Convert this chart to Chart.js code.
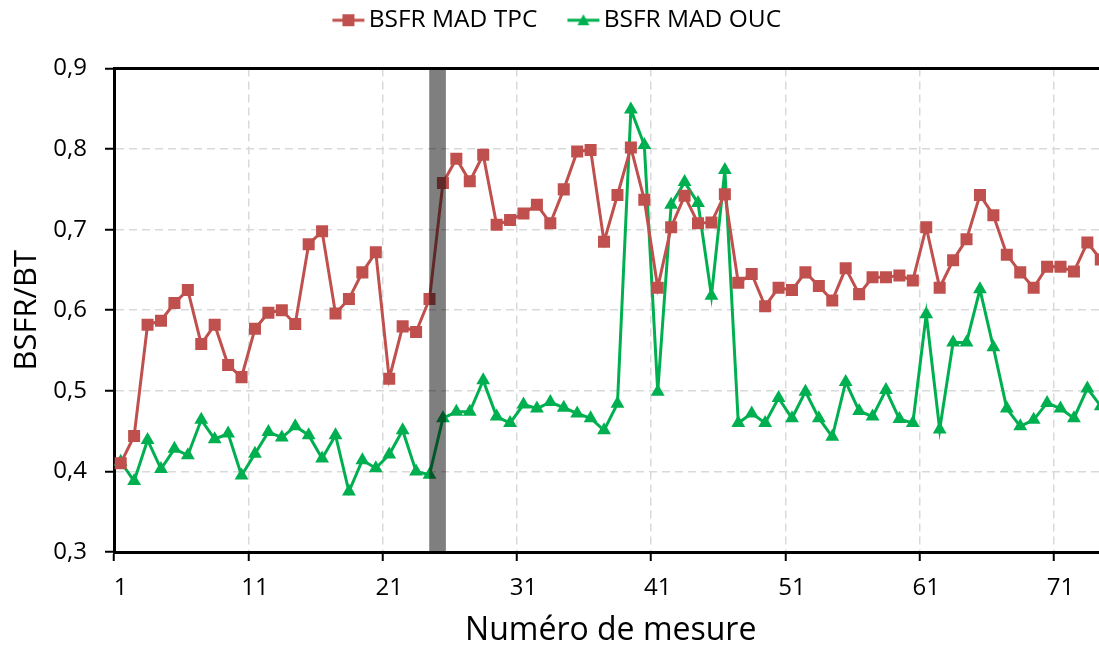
<!DOCTYPE html>
<html>
<head>
<meta charset="utf-8">
<script src="https://cdn.jsdelivr.net/npm/chart.js@4.4.0/dist/chart.umd.min.js"></script>
<style>
  html, body { margin: 0; padding: 0; background: #fff; overflow: hidden; }
</style>
</head>
<body>
<canvas id="bsfr-chart" width="1116" height="650"></canvas>
<script>
// measure numbers 1..74 on the x axis
let measures = Array.from({length: 74}, (v, i) => i + 1)

let tpcValues = [
  0.410, 0.444, 0.582, 0.587, 0.609, 0.625, 0.558, 0.582, 0.532, 0.517,
  0.577, 0.597, 0.600, 0.583, 0.682, 0.698, 0.596, 0.614, 0.647, 0.672,
  0.515, 0.580, 0.573, 0.614, 0.758, 0.788, 0.760, 0.793, 0.706, 0.712,
  0.720, 0.731, 0.708, 0.750, 0.797, 0.799, 0.685, 0.743, 0.802, 0.737,
  0.628, 0.703, 0.742, 0.708, 0.709, 0.744, 0.634, 0.645, 0.605, 0.628,
  0.625, 0.647, 0.630, 0.612, 0.652, 0.620, 0.641, 0.641, 0.643, 0.637,
  0.703, 0.628, 0.662, 0.688, 0.743, 0.718, 0.669, 0.647, 0.628, 0.654,
  0.654, 0.648, 0.684, 0.663
]

let oucValues = [
  0.412, 0.388, 0.439, 0.403, 0.428, 0.420, 0.464, 0.440, 0.447, 0.395,
  0.422, 0.449, 0.442, 0.456, 0.445, 0.416, 0.445, 0.375, 0.414, 0.404,
  0.421, 0.451, 0.400, 0.396, 0.466, 0.474, 0.474, 0.513, 0.468, 0.460,
  0.483, 0.478, 0.486, 0.479, 0.472, 0.466, 0.451, 0.484, 0.849, 0.805,
  0.499, 0.731, 0.759, 0.733, 0.618, 0.774, 0.460, 0.472, 0.460, 0.491,
  0.466, 0.499, 0.466, 0.443, 0.511, 0.475, 0.468, 0.501, 0.465, 0.460,
  0.595, 0.452, 0.560, 0.560, 0.626, 0.554, 0.478, 0.456, 0.464, 0.485,
  0.478, 0.466, 0.503, 0.481
]

// grey separator band between measure 24 and 25
let separatorX = [24.6]
let separatorRange = [0.3, 0.9]

let xTickLabels = [1, 11, 21, 31, 41, 51, 61, 71]
let xMin = 0.5
let xMax = 74.5
let yMin = 0.3
let yMax = 0.9
let yStep = 0.1

let red = '#C0504D'
let green = '#00B050'
let font = "'Open Sans', 'DejaVu Sans', sans-serif"

// legend icon: short line with the marker in the middle
function legendIcon(color, shape) {
    let c = document.createElement('canvas')
    c.width = 64
    c.height = 18
    let g = c.getContext('2d')
    g.strokeStyle = color
    g.fillStyle = color
    g.lineWidth = 3
    g.beginPath()
    g.moveTo(31, 9)
    g.lineTo(63, 9)
    g.stroke()
    if (shape === 'rect') {
        g.fillRect(41, 3, 12, 12)
    } else {
        g.beginPath()
        g.moveTo(47, 3)
        g.lineTo(53, 14)
        g.lineTo(41, 14)
        g.closePath()
        g.fill()
    }
    return c
}
let icons = [legendIcon(red, 'rect'), legendIcon(green, 'triangle')]

let ctx = document.querySelector('#bsfr-chart').getContext('2d')

let chart = new Chart(ctx, {
    type: 'line',
    data: {
        labels: measures,
        datasets: [{
            label: 'BSFR MAD TPC',
            data: tpcValues,
            borderColor: red,
            backgroundColor: red,
            borderWidth: 3,
            pointStyle: 'rect',
            pointRadius: 8.5,
            pointBorderWidth: 0,
            tension: 0,
            order: 1
        }, {
            label: 'BSFR MAD OUC',
            data: oucValues,
            borderColor: green,
            backgroundColor: green,
            borderWidth: 3,
            pointStyle: 'triangle',
            pointRadius: 8,
            pointBorderWidth: 0,
            tension: 0,
            order: 1
        }, {
            type: 'bar',
            label: 'separator',
            data: separatorX.map(x => ({x: x, y: separatorRange})),
            backgroundColor: 'rgba(0,0,0,0.5)',
            barThickness: 16,
            grouped: false,
            order: 0
        }]
    },
    options: {
        responsive: false,
        animation: false,
        layout: {padding: 0},
        plugins: {
            tooltip: {enabled: false},
            legend: {
                position: 'top',
                labels: {
                    usePointStyle: true,
                    pointStyleWidth: 46,
                    padding: 8,
                    color: '#000',
                    font: {family: font, size: 24.5},
                    generateLabels: function (chart) {
                        let items = Chart.defaults.plugins.legend.labels.generateLabels(chart)
                        return items.filter(it => it.datasetIndex < 2).map(it => {
                            it.pointStyle = icons[it.datasetIndex]
                            if (it.datasetIndex === 1) it.text = it.text + '\u2003'
                            return it
                        })
                    }
                }
            }
        },
        scales: {
            x: {
                type: 'linear',
                min: xMin,
                max: xMax,
                offset: false,
                afterFit: function (scale) { scale.height = 98 },
                afterBuildTicks: function (scale) {
                    scale.ticks = xTickLabels.map(v => ({value: v - 0.5}))
                },
                ticks: {
                    autoSkip: false,
                    maxRotation: 0,
                    labelOffset: 6.7,
                    padding: 13,
                    color: '#000',
                    font: {family: font, size: 24},
                    callback: function (value, index) { return String(xTickLabels[index]) }
                },
                grid: {
                    offset: false,
                    color: '#D9D9D9',
                    lineWidth: 1.5,
                    tickColor: '#000',
                    tickLength: 9,
                    tickWidth: 2
                },
                border: {display: true, color: '#000', width: 3, dash: [8, 5]},
                title: {
                    display: true,
                    text: 'Numéro de mesure',
                    color: '#000',
                    font: {family: font, size: 32},
                    padding: {top: 0, bottom: 0}
                }
            },
            xTop: {
                type: 'linear',
                position: 'top',
                min: xMin,
                max: xMax,
                offset: false,
                afterFit: function (scale) { scale.height = 26 },
                ticks: {display: false},
                grid: {display: false, drawTicks: false, offset: false},
                border: {display: true, color: '#000', width: 3}
            },
            y: {
                min: yMin,
                max: yMax,
                afterFit: function (scale) { scale.width = 114 },
                ticks: {
                    stepSize: yStep,
                    padding: 18,
                    color: '#000',
                    font: {family: font, size: 24},
                    callback: function (value) { return value.toFixed(1).replace('.', ',') }
                },
                grid: {
                    color: '#D9D9D9',
                    lineWidth: 1.5,
                    tickColor: '#000',
                    tickLength: 9,
                    tickWidth: 2
                },
                border: {display: true, color: '#000', width: 3, dash: [8, 5]},
                title: {
                    display: true,
                    text: 'BSFR/BT',
                    color: '#000',
                    font: {family: font, size: 31},
                    padding: {top: 9, bottom: 0}
                }
            }
        }
    }
})
</script>
</body>
</html>
